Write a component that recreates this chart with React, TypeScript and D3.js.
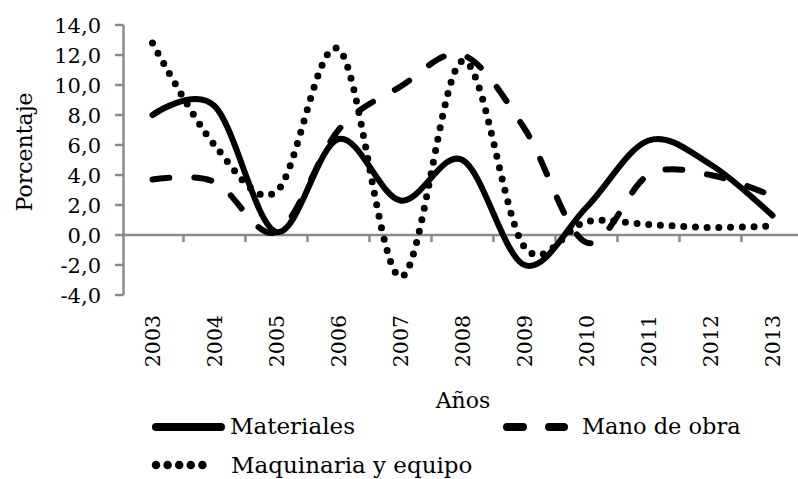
import React from "react";
import * as d3 from "d3";

const years = ["2003","2004","2005","2006","2007","2008","2009","2010","2011","2012","2013"];
const materiales = [8.0, 8.6, 0.2, 6.4, 2.3, 5.0, -2.0, 1.85, 6.3, 4.7, 1.3];
const manoDeObra = [3.7, 3.55, 0.2, 7.0, 9.9, 12.0, 7.1, -0.5, 4.0, 4.0, 2.6];
const maquinaria = [12.8, 6.0, 2.9, 12.4, -2.8, 11.6, -0.8, 0.9, 0.7, 0.5, 0.6];
const yTicks = [-4, -2, 0, 2, 4, 6, 8, 10, 12, 14];
const seriesNames = ["Materiales", "Mano de obra", "Maquinaria y equipo"];

const FONT = "DejaVu Serif";
const AXIS = "#8a8a8a";

export default function App() {
  const x = d3.scaleBand<string>().domain(years).range([121.5, 803.5]).paddingInner(0).paddingOuter(0);
  const y = d3.scaleLinear().domain([-4, 14]).range([295, 25]);
  const cx = (i: number) => (x(years[i]) as number) + x.bandwidth() / 2;
  const line = d3
    .line<number>()
    .x((_, i) => cx(i))
    .y((v) => y(v))
    .curve(d3.curveCardinal.tension(0));

  const fmt = (v: number) => v.toFixed(1).replace(".", ",");

  const styles = [
    { dash: undefined as string | undefined, w: 6 },
    { dash: "17 25", w: 6 },
    { dash: "0 11.7", w: 7 },
  ];
  const data = [materiales, manoDeObra, maquinaria];

  return (
    <svg
      width={798}
      height={479}
      style={{ position: "absolute", left: 0, top: 0, background: "#fff" }}
      fontFamily={FONT}
    >
      <rect x={0} y={0} width={798} height={479} fill="#fff" />
      {/* y axis */}
      <line x1={123.5} x2={123.5} y1={y(14)} y2={y(-4)} stroke={AXIS} strokeWidth={2.5} />
      {yTicks.map((t) => (
        <g key={t}>
          <line x1={115} x2={123.5} y1={y(t)} y2={y(t)} stroke={AXIS} strokeWidth={2.5} />
          <text x={101} y={y(t)} dy="0.36em" textAnchor="end" fontSize={21} fill="#000">
            {fmt(t)}
          </text>
        </g>
      ))}
      {/* x axis */}
      <line x1={122} x2={798} y1={y(0)} y2={y(0)} stroke={AXIS} strokeWidth={2.5} />
      {years.slice(1).map((yr) => (
        <line key={yr} x1={x(yr)} x2={x(yr)} y1={y(0)} y2={y(0) + 7} stroke={AXIS} strokeWidth={2.5} />
      ))}
      {years.map((yr, i) => (
        <text
          key={yr}
          transform={`translate(${cx(i) + 7.5},315) rotate(-90)`}
          textAnchor="end"
          fontSize={20.5}
          fill="#000"
        >
          {yr}
        </text>
      ))}
      <text transform="translate(32,152) rotate(-90)" textAnchor="middle" fontSize={22} fill="#000">
        Porcentaje
      </text>
      <text x={463} y={408} textAnchor="middle" fontSize={22} fill="#000">
        Años
      </text>
      {/* series */}
      {data.map((d, k) => (
        <path
          key={k}
          d={line(d) as string}
          fill="none"
          stroke="#000"
          strokeWidth={styles[k].w}
          strokeDasharray={styles[k].dash}
          strokeLinecap="round"
          strokeLinejoin="round"
        />
      ))}
      {/* legend */}
      <line x1={156} x2={221} y1={427} y2={427} stroke="#000" strokeWidth={8} strokeLinecap="round" />
      <text x={230} y={434} fontSize={23} fill="#000">{seriesNames[0]}</text>
      <line x1={507} x2={564} y1={427} y2={427} stroke="#000" strokeWidth={8} strokeLinecap="round" strokeDasharray="16 26" />
      <text x={582} y={434} fontSize={22.5} fill="#000">{seriesNames[1]}</text>
      <line x1={156} x2={214} y1={465} y2={465} stroke="#000" strokeWidth={8.5} strokeLinecap="round" strokeDasharray="0 11.6" />
      <text x={231} y={473} fontSize={23} fill="#000">{seriesNames[2]}</text>
    </svg>
  );
}
